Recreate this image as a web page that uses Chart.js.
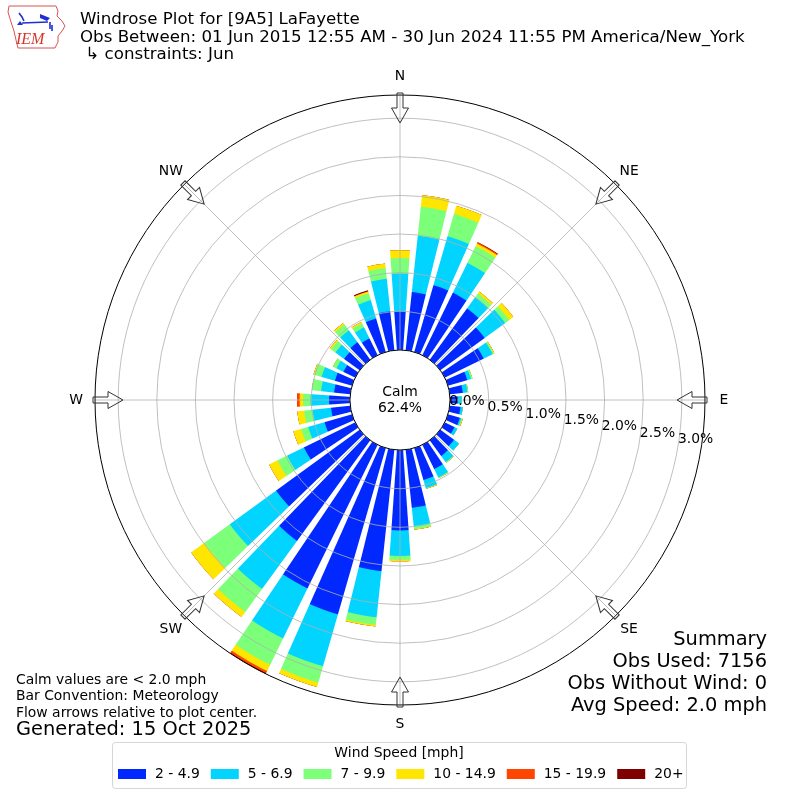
<!DOCTYPE html>
<html>
<head>
<meta charset="utf-8">
<title>Windrose Plot for [9A5] LaFayette</title>
<script src="https://cdn.jsdelivr.net/npm/chart.js@4.4.1/dist/chart.umd.min.js"></script>
<style>
    html, body { margin: 0; padding: 0; background: #ffffff; }
    #wrap { width: 800px; height: 800px; }
</style>
</head>
<body>
<div id="wrap"><canvas id="windrose" width="800" height="800"></canvas></div>
<script>
// direction bins, degrees the wind blows from (10 degree sectors)
const directions = [0, 10, 20, 30, 40, 50, 60, 70, 80, 90, 100, 110, 120, 130, 140, 150, 160, 170,
    180, 190, 200, 210, 220, 230, 240, 250, 260, 270, 280, 290, 300, 310, 320, 330, 340, 350];

// frequency (%) of each speed bin per direction
const speed2to5 = [0.50, 0.76, 0.90, 0.90, 0.82, 0.71, 0.56, 0.26, 0.17, 0.10, 0.14, 0.16, 0.14, 0.22, 0.25, 0.35, 0.43, 0.755,
    1.04, 1.58, 2.24, 2.07, 1.61, 1.34, 0.74, 0.37, 0.25, 0.27, 0.21, 0.23, 0.17, 0.25, 0.28, 0.24, 0.45, 0.51];
const speed5to7 = [0.49, 0.73, 0.66, 0.43, 0.18, 0.33, 0.13, 0.05, 0.06, 0.05, 0.03, 0.02, 0.04, 0.08, 0.10, 0.12, 0.11, 0.24,
    0.33, 0.60, 0.70, 0.72, 0.77, 0.74, 0.24, 0.22, 0.24, 0.24, 0.17, 0.18, 0.10, 0.14, 0.19, 0.16, 0.25, 0.42];
const speed7to10 = [0.20, 0.38, 0.30, 0.24, 0.06, 0.065, 0.015, 0.02, 0.01, 0, 0, 0.01, 0, 0, 0.01, 0.01, 0.005, 0.04,
    0.05, 0.10, 0.22, 0.38, 0.37, 0.41, 0.14, 0.095, 0.11, 0.095, 0.12, 0.10, 0.05, 0.07, 0.095, 0.06, 0.09, 0.14];
const speed10to15 = [0.10, 0.15, 0.11, 0.04, 0.03, 0.065, 0.01, 0, 0, 0, 0, 0.01, 0, 0, 0, 0, 0.005, 0.005,
    0.02, 0.02, 0.06, 0.09, 0.08, 0.21, 0.12, 0.105, 0.09, 0.045, 0, 0.01, 0, 0.02, 0.025, 0.02, 0.025, 0.06];
const speed15to20 = [0, 0, 0, 0.015, 0, 0, 0, 0, 0, 0, 0, 0, 0, 0, 0, 0, 0, 0,
    0, 0, 0, 0.03, 0, 0, 0, 0, 0, 0.035, 0, 0, 0, 0, 0, 0, 0.005, 0];
const speed20plus = [0, 0, 0, 0.005, 0, 0, 0, 0, 0, 0, 0, 0, 0, 0, 0, 0, 0, 0,
    0, 0, 0, 0.01, 0, 0, 0, 0, 0, 0, 0, 0, 0, 0, 0, 0, 0.012, 0];

const speedLabels = ['2 - 4.9', '5 - 6.9', '7 - 9.9', '10 - 14.9', '15 - 19.9', '20+'];
const speedColors = ['#0028ff', '#00d4ff', '#7cff79', '#ffe600', '#ff4600', '#7f0000'];

const tickValues = [0, 0.5, 1.0, 1.5, 2.0, 2.5, 3.0];
const tickLabels = ['0.0%', '0.5%', '1.0%', '1.5%', '2.0%', '2.5%', '3.0%'];
const compassAngles = [0, 45, 90, 135, 180, 225, 270, 315];
const compassLabels = ['N', 'NE', 'E', 'SE', 'S', 'SW', 'W', 'NW'];

const calmPercent = 62.4;
const radialMax = 3.3;
const radialMin = -0.648; // negative so the calm circle fits in the middle

const titleLines = [
    'Windrose Plot for [9A5] LaFayette',
    'Obs Between: 01 Jun 2015 12:55 AM - 30 Jun 2024 11:55 PM America/New_York',
    ' \u21b3 constraints: Jun'
];
const noteLines = ['Calm values are < 2.0 mph', 'Bar Convention: Meteorology', 'Flow arrows relative to plot center.'];
const generatedLine = 'Generated: 15 Oct 2025';
const summaryLines = ['Summary', 'Obs Used: 7156', 'Obs Without Wind: 0', 'Avg Speed: 2.0 mph'];
const legendTitle = 'Wind Speed [mph]';

const FONT = "'DejaVu Sans', sans-serif";

document.addEventListener('DOMContentLoaded', () => {
    const ctx = document.getElementById('windrose').getContext('2d');

    // stack the bins: each dataset holds the running total, smaller ones drawn on top
    const speedSeries = [speed2to5, speed5to7, speed7to10, speed10to15, speed15to20, speed20plus];
    const cumulative = [];
    speedSeries.forEach((series, k) => {
        cumulative.push(series.map((v, i) => (k ? cumulative[k - 1][i] : 0) + v));
    });

    const writeText = (str, x, y, size, align = 'left', baseline = 'middle', color = '#000000') => {
        ctx.font = `${size}px ${FONT}`;
        ctx.fillStyle = color;
        ctx.textAlign = align;
        ctx.textBaseline = baseline;
        ctx.fillText(str, x, y);
    };

    const drawLogo = () => {
        ctx.save();
        ctx.strokeStyle = '#d9534f';
        ctx.lineWidth = 1;
        const outline = [[9, 6], [56, 6], [58, 11], [57, 16], [62, 21], [65, 26], [62, 31], [58, 36], [58, 42], [55, 48],
            [18, 48], [16, 40], [14, 31], [11, 22], [8, 12]];
        ctx.beginPath();
        outline.forEach(([x, y], i) => (i ? ctx.lineTo(x, y) : ctx.moveTo(x, y)));
        ctx.closePath();
        ctx.stroke();

        ctx.strokeStyle = '#1f2fd1';
        ctx.fillStyle = '#1f2fd1';
        ctx.lineWidth = 1.6;
        ctx.beginPath();
        ctx.moveTo(22, 23);
        ctx.lineTo(48, 22);
        ctx.moveTo(19, 13);
        ctx.lineTo(22, 17);
        ctx.lineTo(24, 21);
        ctx.moveTo(50, 22);
        ctx.lineTo(50, 29);
        ctx.moveTo(52, 25);
        ctx.lineTo(52, 31);
        ctx.stroke();
        ctx.beginPath();
        ctx.moveTo(40, 14);
        ctx.lineTo(50, 18);
        ctx.lineTo(47, 21);
        ctx.lineTo(40, 18);
        ctx.closePath();
        ctx.fill();
        ctx.beginPath();
        ctx.moveTo(17, 25);
        ctx.lineTo(20, 21);
        ctx.lineTo(23, 25);
        ctx.closePath();
        ctx.fill();

        ctx.font = "italic 16px 'Liberation Serif', serif";
        ctx.fillStyle = '#d9342b';
        ctx.textAlign = 'left';
        ctx.textBaseline = 'alphabetic';
        ctx.fillText('IEM', 16, 44);
        ctx.restore();
    };

    const drawLegend = () => {
        ctx.save();
        ctx.globalAlpha = 0.8;
        ctx.fillStyle = '#ffffff';
        ctx.strokeStyle = '#cccccc';
        ctx.lineWidth = 1;
        ctx.beginPath();
        ctx.roundRect(112.5, 742.5, 574, 46, 3);
        ctx.fill();
        ctx.stroke();
        ctx.restore();

        writeText(legendTitle, 399, 753, 13.9, 'center');
        let x = 118;
        speedLabels.forEach((label, k) => {
            ctx.fillStyle = speedColors[k];
            ctx.fillRect(x, 769, 28, 10);
            writeText(label, x + 37, 774, 13.9);
            x += 37 + ctx.measureText(label).width + 11;
        });
    };

    const windroseDecor = {
        id: 'windroseDecor',
        // white separators between the sectors, under the grid rings
        afterDatasetsDraw(chart) {
            const scale = chart.scales.r;
            const c = chart.ctx;
            const inner = scale.getDistanceFromCenterForValue(0) - 2;
            const outer = scale.drawingArea;
            const halfGap = r => 0.35 + 0.0183 * r;
            c.save();
            c.fillStyle = '#ffffff';
            directions.forEach((dir, i) => {
                const a = scale.getIndexAngle(i) - Math.PI / 2;
                const cos = Math.cos(a);
                const sin = Math.sin(a);
                const pt = (r, side) => [scale.xCenter + r * cos - side * halfGap(r) * sin,
                    scale.yCenter + r * sin + side * halfGap(r) * cos];
                c.beginPath();
                c.moveTo(...pt(inner, 1));
                c.lineTo(...pt(outer, 1));
                c.lineTo(...pt(outer, -1));
                c.lineTo(...pt(inner, -1));
                c.closePath();
                c.fill();
            });
            c.restore();
        },
        afterDraw(chart) {
            const scale = chart.scales.r;
            const cx = scale.xCenter;
            const cy = scale.yCenter;
            const calmR = scale.getDistanceFromCenterForValue(0);
            const outer = scale.drawingArea;
            const at = (deg, r) => scale.getPointPosition(deg / 10 + 0.5, r);

            ctx.save();
            // compass spokes
            ctx.strokeStyle = '#b0b0b0';
            ctx.lineWidth = 0.8;
            compassAngles.forEach(deg => {
                const p0 = at(deg, calmR);
                const p1 = at(deg, outer);
                ctx.beginPath();
                ctx.moveTo(p0.x, p0.y);
                ctx.lineTo(p1.x, p1.y);
                ctx.stroke();
            });

            // outer frame
            ctx.strokeStyle = '#000000';
            ctx.lineWidth = 1;
            ctx.beginPath();
            ctx.arc(cx, cy, outer, 0, Math.PI * 2);
            ctx.stroke();

            // calm circle
            ctx.fillStyle = '#ffffff';
            ctx.beginPath();
            ctx.arc(cx, cy, calmR, 0, Math.PI * 2);
            ctx.fill();
            ctx.stroke();
            ctx.restore();
            writeText('Calm', cx, cy - 8, 13.9, 'center');
            writeText(`${calmPercent.toFixed(1)}%`, cx, cy + 8, 13.9, 'center');

            // radial tick labels
            tickValues.forEach((v, i) => {
                const p = at(99.5, scale.getDistanceFromCenterForValue(v));
                writeText(tickLabels[i], p.x, p.y, 13.9, 'left', 'bottom');
            });

            // flow arrows and compass labels
            ctx.save();
            ctx.strokeStyle = '#333333';
            ctx.lineWidth = 1;
            compassAngles.forEach((deg, i) => {
                const a = scale.getIndexAngle(deg / 10 + 0.5) - Math.PI / 2;
                ctx.save();
                ctx.translate(cx, cy);
                ctx.rotate(a);
                ctx.beginPath();
                ctx.moveTo(outer + 2, -3);
                ctx.lineTo(outer - 13, -3);
                ctx.lineTo(outer - 13, -8.5);
                ctx.lineTo(outer - 28, 0);
                ctx.lineTo(outer - 13, 8.5);
                ctx.lineTo(outer - 13, 3);
                ctx.lineTo(outer + 2, 3);
                ctx.closePath();
                ctx.stroke();
                ctx.restore();
                const p = at(deg, outer + 19);
                writeText(compassLabels[i], p.x, p.y, 13.9, 'center');
            });
            ctx.restore();

            // titles and notes
            drawLogo();
            titleLines.forEach((line, i) => writeText(line, 80, 20 + i * 17.5, 16.67));
            noteLines.forEach((line, i) => writeText(line, 16, 680 + i * 16.5, 13.9));
            writeText(generatedLine, 16, 730, 19.4);
            summaryLines.forEach((line, i) => writeText(line, 767, 640 + i * 22, 19.4, 'right'));
            drawLegend();
        }
    };

    new Chart(ctx, {
        type: 'polarArea',
        data: {
            labels: directions.map(d => `${d}\u00b0`),
            datasets: cumulative.map((values, k) => ({
                label: speedLabels[k],
                data: values,
                backgroundColor: speedColors[k],
                borderWidth: 0
            }))
        },
        options: {
            responsive: false,
            animation: false,
            layout: { padding: 95 },
            plugins: {
                legend: { display: false },
                tooltip: { enabled: false }
            },
            scales: {
                r: {
                    min: radialMin,
                    max: radialMax,
                    startAngle: -5,
                    grid: { color: '#b0b0b0', lineWidth: 0.8, circular: true, z: 1 },
                    angleLines: { display: false },
                    pointLabels: { display: false },
                    ticks: { display: false, z: 1 },
                    afterBuildTicks: (scale) => {
                        scale.ticks = tickValues.map(v => ({ value: v }));
                    }
                }
            }
        },
        plugins: [windroseDecor]
    });
});
</script>
</body>
</html>
